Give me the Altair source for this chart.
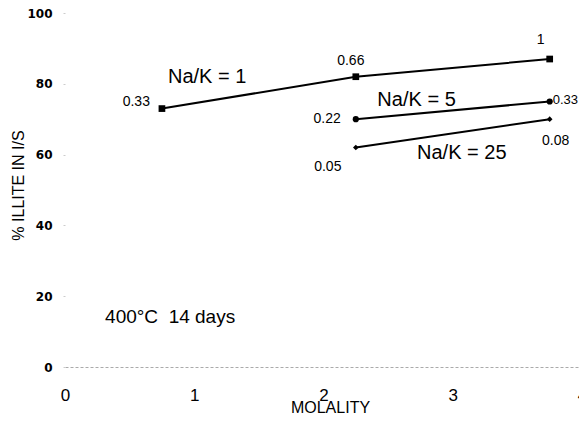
import altair as alt
import pandas as pd

# ---- data ----
series_names = ["Na/K = 1", "Na/K = 5", "Na/K = 25"]
molality_1 = [0.75, 2.25, 3.75]
illite_1 = [73, 82, 87]
labels_1 = ["0.33", "0.66", "1"]
molality_5 = [2.25, 3.75]
illite_5 = [70, 75]
labels_5 = ["0.22", "0.33"]
molality_25 = [2.25, 3.75]
illite_25 = [62, 70]
labels_25 = ["0.05", "0.08"]

x_ticks = [0, 1, 2, 3, 4]
y_ticks = [0, 20, 40, 60, 80, 100]

series_label_x = [1.10, 2.72, 3.07]
series_label_y = [81.9, 75.4, 60.5]
note_text = "400°C\u00a0\u00a014 days"
note_x = [0.31]
note_y = [14.1]

rows = []
for name, xs, ys, ls in zip(series_names,
                            [molality_1, molality_5, molality_25],
                            [illite_1, illite_5, illite_25],
                            [labels_1, labels_5, labels_25]):
    for i, (xv, yv, lv) in enumerate(zip(xs, ys, ls)):
        rows.append({"series": name, "molality": xv, "illite": yv, "label": lv, "idx": i})
df = pd.DataFrame(rows)

sl_df = pd.DataFrame({"name": series_names, "molality": series_label_x, "illite": series_label_y})
note_df = pd.DataFrame({"name": [note_text], "molality": note_x, "illite": note_y})

FONT = "Liberation Sans"

xenc = alt.X("molality:Q",
             scale=alt.Scale(domain=[0, 4], nice=False, zero=False),
             axis=alt.Axis(values=x_ticks, title="MOLALITY", labelFont=FONT, labelFontSize=17,
                           labelColor="black", labelPadding=20, ticks=False, grid=False,
                           domainColor="#aaaaaa", domainDash=[3, 2], domainWidth=1,
                           titleFont=FONT, titleFontSize=16, titleFontWeight="normal",
                           titleColor="black", titleX=265, titleY=40, titleBaseline="middle",
                           labelFlush=False, format="d"))
yenc = alt.Y("illite:Q",
             scale=alt.Scale(domain=[0, 100], nice=False),
             axis=alt.Axis(values=y_ticks, title="% ILLITE IN I/S", labelFont="DejaVu Sans",
                           labelFontWeight="bold", labelFontSize=12, labelColor="black",
                           labelPadding=11, tickSize=2, tickColor="#cccccc", domain=False,
                           grid=False, titleFont=FONT, titleFontSize=16,
                           titleFontWeight="normal", titleColor="black", titleX=-47,
                           titleY=172, titleBaseline="middle", titleAngle=270,
                           labelFlush=False))

base = alt.Chart(df)

lines = base.mark_line(color="black", strokeWidth=2).encode(x=xenc, y=yenc, detail="series:N")
points = base.mark_point(filled=True, color="black", opacity=1).encode(
    x="molality:Q", y="illite:Q",
    shape=alt.Shape("series:N", scale=alt.Scale(domain=series_names,
                                                range=["square", "circle", "diamond"]),
                    legend=None),
    size=alt.Size("series:N", scale=alt.Scale(domain=series_names, range=[45, 32, 30]),
                  legend=None),
)


def point_label(series, idx, dx, dy, align, size=14):
    return base.transform_filter(
        (alt.datum.series == series) & (alt.datum.idx == idx)
    ).mark_text(font=FONT, fontSize=size, color="black", dx=dx, dy=dy, align=align,
                baseline="middle").encode(x="molality:Q", y="illite:Q", text="label:N")


plabels = [
    point_label(series_names[0], 0, -12, -7, "right"),
    point_label(series_names[0], 1, -5, -16, "center"),
    point_label(series_names[0], 2, -9, -19, "center"),
    point_label(series_names[1], 0, -15, 0, "right"),
    point_label(series_names[1], 1, 3, -2, "left", 13),
    point_label(series_names[2], 0, -28, 19, "center"),
    point_label(series_names[2], 1, 6, 22, "center"),
]

slabels = alt.Chart(sl_df).mark_text(font=FONT, fontSize=20, color="black",
                                     baseline="middle", align="center").encode(
    x="molality:Q", y="illite:Q", text="name:N")

note = alt.Chart(note_df).mark_text(font=FONT, fontSize=19, color="black",
                                    baseline="middle", align="left").encode(
    x="molality:Q", y="illite:Q", text="name:N")

chart = alt.layer(lines, points, *plabels, slabels, note).properties(
    width=517, height=354,
    autosize=alt.AutoSizeParams(type="none"),
    padding={"left": 57, "top": 5, "right": -3, "bottom": 49},
    background="white",
).configure_view(stroke=None)

chart.save("out.html", embed_options={"renderer": "svg", "actions": False})
